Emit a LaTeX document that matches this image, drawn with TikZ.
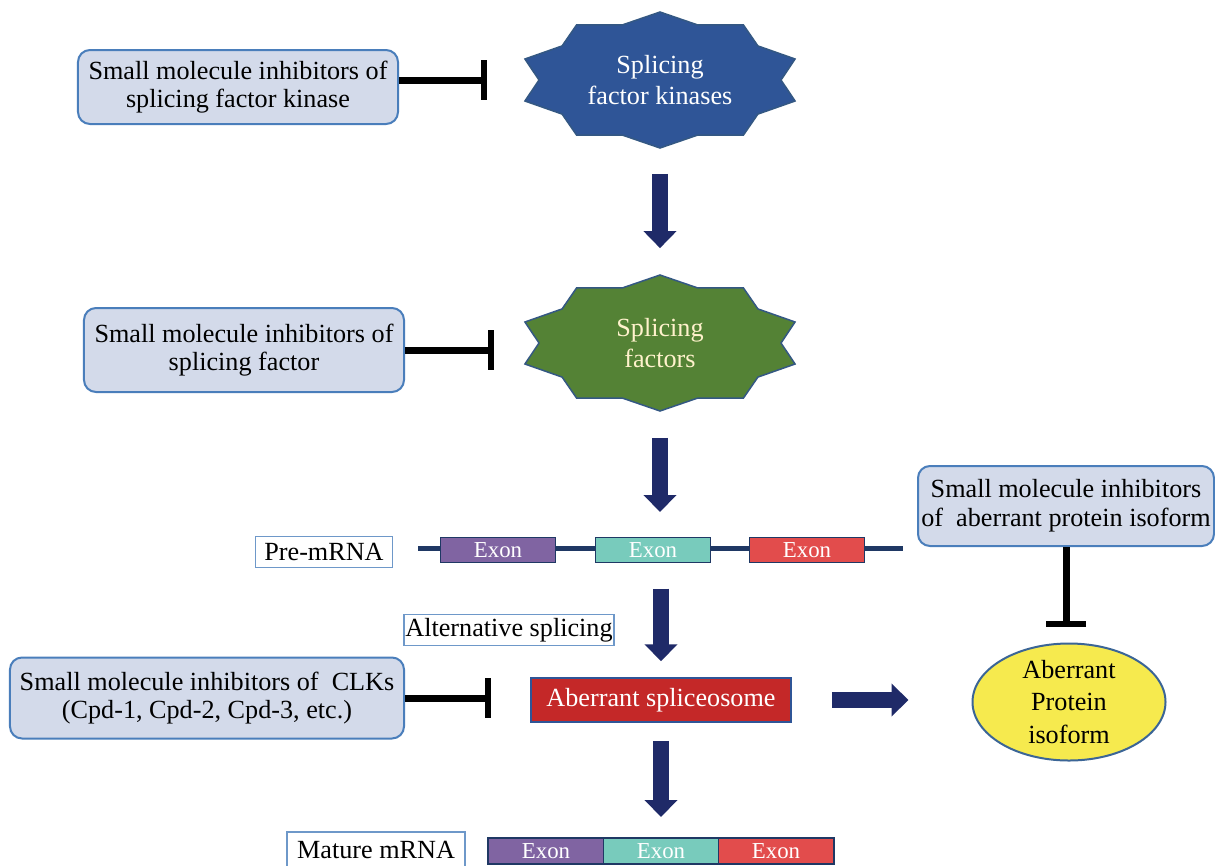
\documentclass[tikz,border=0pt]{standalone}
\usepackage{fontspec}
\setmainfont{Liberation Serif}
\usetikzlibrary{arrows.meta, shapes.geometric}
\definecolor{boxfill}{RGB}{211,218,234}
\definecolor{boxline}{RGB}{74,126,187}
\definecolor{kinblue}{RGB}{47,85,151}
\definecolor{sfgreen}{RGB}{84,130,53}
\definecolor{sftext}{RGB}{255,242,204}
\definecolor{navy}{RGB}{31,42,104}
\definecolor{rnaline}{RGB}{31,56,100}
\definecolor{exonpurple}{RGB}{128,100,162}
\definecolor{exonteal}{RGB}{120,203,188}
\definecolor{exonred}{RGB}{226,76,76}
\definecolor{splred}{RGB}{196,40,40}
\definecolor{isoyellow}{RGB}{246,234,78}

\begin{document}
\begin{tikzpicture}[
  x=0.2mm, y=-0.2mm,
  font=\fontsize{14.9}{16.3}\selectfont,
  inhbox/.style={draw=boxline, fill=boxfill, line width=0.4mm, rounded corners=2.4mm, align=center, inner sep=0pt},
  tagbox/.style={draw=boxline!80, fill=white, line width=0.3mm, inner sep=0pt},
  exonbox/.style={fill=#1, draw=rnaline, line width=0.2mm, minimum width=23mm, minimum height=5mm, inner sep=0pt, text=white, font=\fontsize{13}{14}\selectfont},
  starnode/.style={minimum width=56.8mm, minimum height=27.4mm, align=center, inner sep=0pt},
  fatarrow/.style={draw=navy, line width=3.2mm, -{Triangle[width=6.4mm, length=3.4mm]}},
  blocker/.style={draw=black, line width=1.4mm, -{Bar[width=8mm, line width=1.2mm]}}
]
\useasboundingbox[fill=white] (0,0) rectangle (1215,865);

% the two star shaped nodes
\coordinate (kinc) at (660,80);
\coordinate (sfc) at (660,343);
\filldraw[fill=kinblue, draw=boxline!70!black, line width=0.3mm, shift={(kinc)}]
  (90:142 and 68) \foreach \a in {126,162,...,450} { -- ({\a-18}:121 and 58) -- (\a:142 and 68) } -- cycle;
\filldraw[fill=sfgreen, draw=boxline!70!black, line width=0.3mm, shift={(sfc)}]
  (90:142 and 68) \foreach \a in {126,162,...,450} { -- ({\a-18}:121 and 58) -- (\a:142 and 68) } -- cycle;
\node[starnode, text=white] (kin) at (kinc) {Splicing\\[1pt]factor kinases};
\node[starnode, text=sftext] (sf) at (sfc) {Splicing\\[1pt]factors};

% inhibitor boxes
\node[inhbox, minimum width=64mm, minimum height=14.8mm] (inhkin) at (238,87)
  {Small molecule inhibitors of\\splicing factor kinase};
\node[inhbox, minimum width=64mm, minimum height=16.8mm] (inhsf) at (244,350)
  {Small molecule inhibitors of\\splicing factor};
\node[inhbox, minimum width=78.8mm, minimum height=16.2mm] (inhclk) at (207,698)
  {Small molecule inhibitors of~ CLKs\\(Cpd-1, Cpd-2, Cpd-3, etc.)};
\node[inhbox, minimum width=59.2mm, minimum height=16mm] (inhiso) at (1066,506)
  {Small molecule inhibitors\\of~ aberrant protein isoform};

% pre-mRNA
\node[tagbox, minimum width=27.4mm, minimum height=6.2mm] (pre) at (324,552) {Pre-mRNA};
\coordinate (rnaL) at (418,548);
\coordinate (rnaR) at (903,548);
\draw[rnaline, line width=1mm] (rnaL) -- (rnaR);
\node[exonbox=exonpurple] (e1) at (498,550) {Exon};
\node[exonbox=exonteal] (e2) at (653,550) {Exon};
\node[exonbox=exonred] (e3) at (807,550) {Exon};

\node[tagbox, minimum width=42mm, minimum height=6.2mm] (alt) at (509,630) {Alternative splicing};
\node[fill=splred, draw=kinblue, line width=0.3mm, text=white, minimum width=52mm, minimum height=8.8mm, inner sep=0pt] (spl) at (661,700) {Aberrant spliceosome};
\node[ellipse, fill=isoyellow, draw=boxline!80!black, line width=0.4mm, minimum width=38.6mm, minimum height=21.4mm, inner sep=0pt, align=center] (iso) at (1069,702) {Aberrant\\[2pt]Protein\\[2pt]isoform};

% mature mRNA
\node[tagbox, minimum width=35.6mm, minimum height=7.2mm] (mat) at (376,850) {Mature mRNA};
\node[exonbox=exonpurple] (m1) at (546,851) {Exon};
\node[exonbox=exonteal] (m2) at (661,851) {Exon};
\node[exonbox=exonred] (m3) at (776,851) {Exon};
\draw[rnaline, line width=0.4mm] (m1.north west) rectangle (m3.south east);

% arrows
\draw[fatarrow, shorten <=5mm, shorten >=5.2mm] (kin) -- (sf);
\draw[fatarrow, shorten <=5.2mm, shorten >=5mm] (sf.south) -- (sf.south |- e2.north);
\draw[fatarrow, shorten <=5.1mm, shorten >=3.2mm] (spl.north |- e2.south) -- (spl.north);
\draw[fatarrow, shorten <=3.6mm, shorten >=4.2mm] (spl.south) -- (spl.south |- m2.north);
\draw[fatarrow, shorten <=8mm, shorten >=12.6mm] (spl.east) -- (spl.east -| iso.west);

% inhibition
\draw[blocker, shorten >=6.2mm] (inhkin.east |- kinc) -- (kin.west);
\draw[blocker, shorten >=4.8mm] (inhsf.east) -- (inhsf.east -| sf.west);
\draw[blocker, shorten >=7.8mm] (inhclk.east) -- (inhclk.east -| spl.west);
\draw[blocker, shorten >=3.2mm] (inhiso.south) -- (inhiso.south |- iso.north);
\end{tikzpicture}
\end{document}
